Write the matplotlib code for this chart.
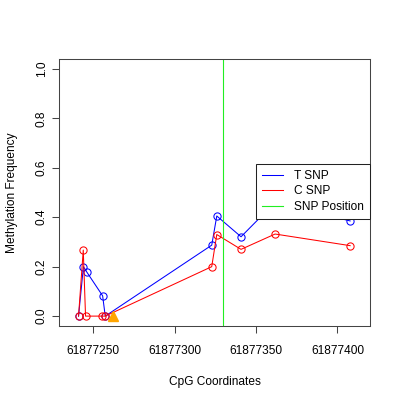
import numpy as np
import matplotlib.pyplot as plt
from matplotlib.ticker import FormatStrFormatter

plt.rcParams['font.family'] = ['Liberation Sans', 'DejaVu Sans']

# values
t_x = [61877241, 61877244, 61877246, 61877255.8, 61877257.4,
       61877322.8, 61877325.9, 61877340.8, 61877361.7, 61877407.8]
t_y = [0.0, 0.2, 0.179, 0.082, 0.0, 0.287, 0.405, 0.321, 0.46, 0.385]

c_x = [61877241, 61877243.9, 61877245.3, 61877255.2, 61877257.4,
       61877322.8, 61877325.9, 61877340.8, 61877361.7, 61877407.8]
c_y = [0.0, 0.267, 0.0, 0.0, 0.0, 0.2, 0.33, 0.27, 0.332, 0.285]

snp_pos = 61877330
tri_x = [61877262]
tri_y = [0.0]

xticks = [61877250, 61877300, 61877350, 61877400]
yticks = [0.0, 0.2, 0.4, 0.6, 0.8, 1.0]

fs = 8.6
fig = plt.figure(figsize=(4, 4), dpi=100)
ax = fig.add_axes([59/400, 1 - 326/400, 311/400, 267/400])

ax.plot(t_x, t_y, color='blue', lw=0.75, marker='o', mfc='none',
        mec='blue', ms=5.2, mew=0.75, label='T SNP')
ax.plot(c_x, c_y, color='red', lw=0.75, marker='o', mfc='none',
        mec='red', ms=5.2, mew=0.75, label='C SNP')
ax.axvline(snp_pos, color='#22EE22', lw=0.8, label='SNP Position')
ax.plot(tri_x, tri_y, marker='^', color='orange', ms=7, ls='none')

ax.set_xlim(61877229, 61877420)
ax.set_ylim(-0.04, 1.04)
ax.set_xticks(xticks)
ax.set_yticks(yticks)
ax.xaxis.set_major_formatter(FormatStrFormatter('%d'))
ax.yaxis.set_major_formatter(FormatStrFormatter('%.1f'))
ax.tick_params(length=5, width=0.75, labelsize=fs, color='#444444')
ax.tick_params(axis='x', pad=9)
ax.tick_params(axis='y', pad=3)
for lab in ax.get_yticklabels():
    lab.set_rotation(90)
    lab.set_va('center')
for sp in ax.spines.values():
    sp.set_linewidth(0.75)
    sp.set_color('#444444')

ax.set_xlabel('CpG Coordinates', fontsize=fs, labelpad=13)
ax.set_ylabel('Methylation Frequency', fontsize=fs, labelpad=13)

leg = ax.legend(loc='upper left', bbox_to_anchor=(0.633, 0.607),
                borderaxespad=0, fontsize=fs, fancybox=False, framealpha=1,
                edgecolor='#222222', handlelength=1.8, handletextpad=0.9,
                borderpad=0.5, labelspacing=0.3)
leg.get_frame().set_linewidth(0.75)
for h in leg.get_lines():
    h.set_marker('')

fig.savefig('out.png', dpi=100)
